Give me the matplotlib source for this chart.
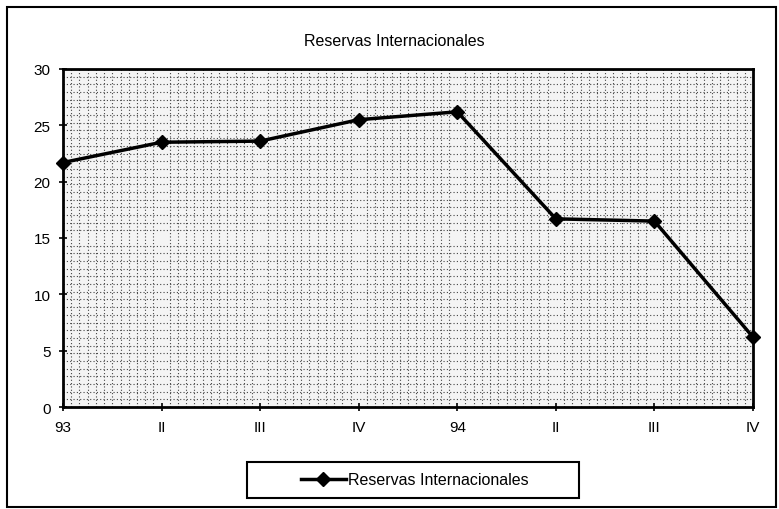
import matplotlib
matplotlib.use("Agg")
import matplotlib.pyplot as plt
from matplotlib.ticker import MultipleLocator
from matplotlib.patches import Rectangle
import numpy as np

plt.rcParams['font.family'] = ['Liberation Sans', 'DejaVu Sans']

categories = ["93", "II", "III", "IV", "94", "II", "III", "IV"]
reservas = [21.7, 23.5, 23.6, 25.5, 26.2, 16.7, 16.5, 6.2]
series_name = "Reservas Internacionales"
title = "Reservas Internacionales"
yticks = [0, 5, 10, 15, 20, 25, 30]

fig = plt.figure(figsize=(7.79, 5.10), dpi=100)
ax = fig.add_axes([63/779, 1-408/510, (753-63)/779, (408-70)/510])

x = np.arange(len(categories))
line, = ax.plot(x, reservas, color='black', lw=2.5, marker='D', markersize=7,
                markerfacecolor='black', markeredgecolor='black', label=series_name,
                clip_on=False, zorder=5)

ax.set_xlim(0, len(categories)-1)
ax.set_ylim(0, 30)
ax.set_xticks(x)
ax.set_xticklabels(categories)
ax.set_yticks(yticks)
ax.xaxis.set_minor_locator(MultipleLocator(1/12))
ax.yaxis.set_minor_locator(MultipleLocator(30/44))
ax.grid(which='minor', linestyle=(0, (1, 2)), color='#444444', lw=0.8)
ax.set_axisbelow(True)
ax.tick_params(which='minor', length=0)
ax.tick_params(which='major', direction='inout', length=6, width=1.2, labelsize=11, pad=6)
for s in ax.spines.values():
    s.set_linewidth(2)
ax.set_facecolor('#f4f4f4')

fig.text(394/779, 1-42/510, title, ha='center', va='center', fontsize=11.5)

leg = fig.legend(handles=[line], loc='center', bbox_to_anchor=(415/779, 1-481/510),
                 frameon=False, fontsize=11.5, handlelength=2.8, handletextpad=0.15,
                 borderpad=0)

fig.patches.append(Rectangle((247/779, 1-499/510), (579-247)/779, (499-463)/510,
                             transform=fig.transFigure, fill=False, edgecolor='black',
                             lw=1.5))
fig.patches.append(Rectangle((7/779, 1-508/510), (776-7)/779, (508-8)/510,
                             transform=fig.transFigure, fill=False, edgecolor='black',
                             lw=1.5))

fig.savefig("out.png", dpi=100)
